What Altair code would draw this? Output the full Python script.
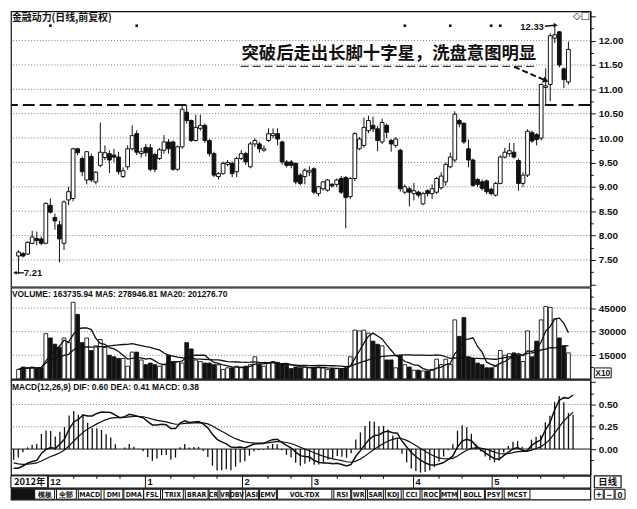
import altair as alt
import pandas as pd

# ---------------- data ----------------
opens = [7.58, 7.63, 7.62, 7.84, 7.94, 7.93, 7.84, 8.62, 8.37, 8.22,
         7.84, 8.73, 8.76, 9.78, 9.58, 9.14, 9.62, 9.10, 9.44, 9.60,
         9.68, 9.65, 9.61, 9.21, 9.41, 9.78, 10.09, 9.68, 9.81, 9.80,
         9.66, 9.58, 9.75, 9.92, 9.92, 9.36, 9.82, 10.53, 10.36, 9.95,
         10.20, 10.26, 9.95, 9.68, 9.21, 9.27, 9.46, 9.48, 9.31, 9.58,
         9.68, 9.41, 9.88, 9.88, 9.75, 9.95, 10.05, 10.09, 9.92, 9.51,
         9.51, 9.48, 9.24, 9.21, 9.30, 9.37, 8.86, 8.96, 8.93, 9.05,
         9.05, 9.17, 9.19, 8.80, 9.17, 9.78, 9.85, 10.15, 10.26, 10.19,
         9.92, 10.26, 9.95, 9.85, 9.75, 8.89, 8.96, 8.86, 8.89, 8.65,
         8.92, 8.86, 8.89, 8.98, 9.10, 9.41, 9.55, 10.36, 10.30, 9.78,
         9.55, 9.15, 9.10, 9.12, 8.95, 8.83, 9.07, 9.61, 9.68, 9.71,
         9.54, 9.07, 9.24, 10.11, 10.07, 10.00, 11.04, 11.10, 12.05, 12.18,
         11.42, 11.15]
highs = [7.70, 7.66, 7.88, 8.10, 8.08, 7.98, 8.68, 8.76, 8.45, 8.30,
         8.72, 9.00, 9.80, 9.80, 9.62, 9.73, 9.68, 9.32, 10.32, 9.85,
         9.75, 9.78, 9.72, 9.40, 9.85, 10.26, 10.16, 9.80, 9.88, 9.88,
         9.70, 9.80, 10.06, 9.98, 9.95, 9.85, 10.68, 10.68, 10.38, 10.48,
         10.48, 10.30, 9.98, 9.72, 9.30, 9.52, 9.55, 9.52, 9.62, 9.75,
         9.72, 9.92, 10.00, 9.92, 9.85, 10.20, 10.20, 10.20, 9.95, 9.55,
         9.55, 9.50, 9.28, 9.38, 9.42, 9.40, 9.02, 9.12, 9.16, 9.08,
         9.17, 9.22, 9.22, 9.20, 10.12, 10.02, 10.42, 10.46, 10.44, 10.25,
         10.40, 10.30, 9.98, 10.02, 9.78, 9.05, 9.00, 9.08, 8.92, 8.90,
         8.95, 9.05, 9.20, 9.30, 9.50, 9.70, 10.55, 10.40, 10.33, 9.97,
         9.58, 9.18, 9.15, 9.15, 8.98, 9.10, 9.65, 9.80, 9.90, 9.90,
         9.58, 9.30, 10.18, 10.15, 10.10, 11.12, 11.43, 12.15, 12.33, 12.20,
         11.45, 11.98]
lows = [7.21, 7.55, 7.60, 7.82, 7.80, 7.80, 7.82, 8.45, 8.12, 7.45,
        7.70, 8.62, 8.70, 9.65, 9.22, 9.05, 9.10, 9.05, 9.40, 9.55,
        9.28, 9.50, 9.25, 9.18, 9.35, 9.75, 9.65, 9.60, 9.62, 9.32,
        9.30, 9.55, 9.68, 9.68, 9.33, 9.33, 9.78, 10.30, 9.92, 9.93,
        10.15, 9.90, 9.62, 9.20, 9.15, 9.25, 9.42, 9.20, 9.20, 9.55,
        9.45, 9.38, 9.82, 9.70, 9.72, 9.92, 10.00, 9.85, 9.45, 9.40,
        9.38, 9.05, 9.03, 9.05, 9.22, 8.85, 8.80, 8.92, 8.90, 8.98,
        9.00, 8.85, 8.15, 8.75, 9.12, 9.75, 9.80, 10.10, 10.12, 9.73,
        9.88, 10.00, 9.72, 9.80, 8.90, 8.85, 8.60, 8.72, 8.78, 8.62,
        8.80, 8.75, 8.85, 8.94, 9.02, 9.38, 9.50, 10.22, 9.88, 9.40,
        9.00, 9.00, 8.92, 8.85, 8.82, 8.80, 9.05, 9.58, 9.62, 9.58,
        8.92, 9.00, 9.20, 9.90, 9.85, 9.95, 10.70, 10.76, 11.95, 11.45,
        11.03, 11.10]
closes = [7.66, 7.58, 7.86, 7.97, 7.90, 7.84, 8.66, 8.48, 8.30, 7.93,
          8.69, 8.90, 9.78, 9.70, 9.31, 9.72, 9.14, 9.30, 9.71, 9.70,
          9.55, 9.61, 9.31, 9.33, 9.78, 10.05, 9.71, 9.72, 9.70, 9.36,
          9.36, 9.76, 9.92, 9.78, 9.36, 9.82, 10.59, 10.36, 9.95, 10.22,
          10.26, 9.95, 9.68, 9.24, 9.27, 9.48, 9.50, 9.27, 9.58, 9.68,
          9.51, 9.88, 9.95, 9.78, 9.78, 10.09, 10.09, 9.98, 9.51, 9.44,
          9.44, 9.10, 9.07, 9.34, 9.33, 8.89, 9.00, 9.10, 9.14, 9.02,
          9.14, 8.89, 8.78, 9.17, 10.09, 9.98, 10.22, 10.36, 10.19, 9.95,
          10.32, 10.12, 9.88, 9.98, 8.96, 9.00, 8.89, 8.92, 8.83, 8.86,
          8.86, 8.96, 9.17, 9.22, 9.46, 9.61, 10.49, 10.29, 9.92, 9.55,
          9.03, 9.05, 8.97, 8.90, 8.86, 9.07, 9.61, 9.71, 9.74, 9.61,
          9.07, 9.24, 10.14, 9.94, 9.97, 11.10, 11.07, 12.10, 12.12, 11.50,
          11.20, 11.82]
# volume in units of x10 shares
volumes = [6000, 7500, 7000, 7500, 6500, 7000, 28700, 26000, 22000, 20000,
           26000, 23000, 48700, 41000, 23000, 26000, 18000, 21000, 25000, 20000,
           15000, 14000, 13000, 13000, 8000, 17000, 17000, 12000, 9000, 10000,
           9000, 8000, 9000, 15000, 11000, 11000, 10000, 23000, 19000, 12000,
           11000, 10000, 10000, 9000, 9000, 6000, 7000, 7000, 8000, 7500,
           8000, 9000, 14000, 9000, 8000, 10000, 11000, 10500, 9000, 8500,
           6500, 7500, 7000, 7500, 7000, 7000, 7500, 7000, 6000, 6500,
           6500, 6000, 7000, 14000, 31000, 30500, 31000, 29000, 24000, 22000,
           21000, 12000, 12000, 7000, 15000, 9000, 7500, 5500, 5500, 5000,
           5000, 6000, 12500, 9000, 12500, 9000, 37500, 27000, 39000, 14000,
           13000, 10000, 9000, 7000, 7000, 8000, 18000, 15000, 16000, 16500,
           15000, 11000, 30500, 14000, 24000, 37500, 46000, 45500, 38000, 26000,
           21000, 16500]

price_grid = [7.5, 8.0, 8.5, 9.0, 9.5, 10.0, 10.5, 11.0, 11.5, 12.0]
resistance = [10.68]
vol_grid = [15000, 30000, 45000]
macd_grid = [0.25, 0.5]
# indicator state at the left edge of the window (EMA12, EMA26, DEA)
macd_seed = [7.80, 8.02, -0.14]

event_idx = [8, 27, 86, 96, 105, 107]
month_labels = ["12", "1", "2", "3", "4", "5"]
month_start = [9, 30, 51, 66, 88, 105]
week_ticks = [14, 19, 24, 35, 40, 45, 56, 61, 71, 76, 81, 93, 98, 110, 115, 120]

title_main = "金融动力(日线,前复权)"
title_vol = "VOLUME: 163735.94  MA5: 278946.81  MA20: 201276.70"
title_macd = "MACD(12,26,9)  DIF: 0.60  DEA: 0.41  MACD: 0.38"
annotation = "突破后走出长脚十字星，洗盘意图明显"
high_label = "12.33"
low_label = "7.21"

buttons = ["", "模板", "全部", "MACD", "DMI", "DMA", "FSL", "TRIX", "BRAR", "CR", "VR",
           "OBV", "ASI", "EMV", "VOL-TDX", "RSI", "WR", "SAR", "KDJ", "CCI", "ROC",
           "MTM", "BOLL", "PSY", "MCST"]
button_x0 = [1, 24, 46, 68, 94, 114, 134, 153, 176, 200, 211, 222, 237, 251, 269,
             326, 344, 360, 378, 396, 415, 434, 454, 479, 498]
button_x1 = [24, 44, 66, 91, 113, 134, 151, 174, 199, 209, 221, 234, 250, 268, 324,
             343, 358, 376, 394, 413, 433, 451, 478, 496, 524]

# ---------------- derived table ----------------
n = len(closes)
df = pd.DataFrame({"i": list(range(1, n + 1)), "open": opens, "high": highs,
                   "low": lows, "close": closes, "vol": volumes})
df["zero"] = 0.0
e12, e26, dea = macd_seed
difs, deas, hist = [], [], []
for c in closes:
    e12 = e12 + (c - e12) * 2 / 13
    e26 = e26 + (c - e26) * 2 / 27
    d = e12 - e26
    dea = dea + (d - dea) * 2 / 10
    difs.append(d)
    deas.append(dea)
    hist.append(2 * (d - dea))
df["dif"] = difs
df["dea"] = deas
df["macd"] = hist

INK = "#111"
W = 585
XS = alt.Scale(domain=[0.42, 125.74], nice=False, zero=False)
UPFILL = alt.condition("datum.close >= datum.open", alt.value("white"), alt.value(INK))
NARROW = "Liberation Sans Narrow, DejaVu Sans Condensed, Liberation Sans"


def xq(field="i"):
    return alt.X(f"{field}:Q", scale=XS, axis=None, title=None)


# ---------------- price panel ----------------
YP = alt.Scale(domain=[6.95, 12.60], nice=False, zero=False)
price_axis = alt.Axis(orient="right", values=[7.0 + 0.25 * k for k in range(23)],
                      labelExpr="(datum.value % 0.5 == 0 && datum.value >= 7.5 && datum.value <= 12) ? format(datum.value, '.2f') : ''",
                      tickSize={"condition": {"test": "datum.value % 0.5 == 0", "value": 5}, "value": 3},
                      title=None)


def yp(field):
    return alt.Y(f"{field}:Q", scale=YP, axis=price_axis, title=None)


grid_p = alt.Chart(pd.DataFrame({"p": price_grid})).mark_rule(
    color="#555", strokeDash=[1, 2], strokeWidth=0.8).encode(y=yp("p"))
resist = alt.Chart(pd.DataFrame({"p": resistance})).mark_rule(
    color=INK, strokeDash=[12, 5], strokeWidth=2).encode(y=yp("p"))
wick = alt.Chart(df).mark_rule(color=INK, strokeWidth=1).encode(
    x=xq(), y=yp("low"), y2="high:Q")
body = alt.Chart(df).mark_bar(size=3.8, stroke=INK, strokeWidth=1).encode(
    x=xq(), y=yp("open"), y2="close:Q", fill=UPFILL)
events = alt.Chart(pd.DataFrame({"i": event_idx})).mark_point(
    shape="square", filled=True, size=7, color=INK, opacity=1).encode(
    x=xq(), y=alt.value(14.5))

t_main = alt.Chart(pd.DataFrame({"t": [title_main]})).mark_text(
    font="Noto Sans CJK SC", fontSize=10, fontWeight="bold", align="left",
    baseline="middle", color=INK).encode(x=alt.value(1), y=alt.value(7), text="t:N")
icons = alt.Chart(pd.DataFrame({"t": ["◇□"]})).mark_text(
    font="DejaVu Sans", fontSize=10, align="center", baseline="middle",
    color=INK).encode(x=alt.value(576), y=alt.value(5), text="t:N")
t_ann = alt.Chart(pd.DataFrame({"t": [annotation]})).mark_text(
    font="Noto Sans CJK SC", fontSize=17.5, fontWeight="bold", align="center",
    baseline="middle", color=INK).encode(x=alt.value(381.5), y=alt.value(43.5), text="t:N")
underline = alt.Chart(pd.DataFrame({"a": [0]})).mark_rule(
    color=INK, strokeDash=[8, 4], strokeWidth=1).encode(
    x=alt.value(232), x2=alt.value(531), y=alt.value(55.5), y2=alt.value(55.5))
arrow = alt.Chart(pd.DataFrame({"a": [0]})).mark_rule(
    color=INK, strokeDash=[6, 3], strokeWidth=2).encode(
    x=alt.value(508), x2=alt.value(538), y=alt.value(56), y2=alt.value(69))
arrow_head = alt.Chart(pd.DataFrame({"a": [0]})).mark_point(
    shape="triangle-up", angle=114, filled=True, size=45, color=INK, opacity=1).encode(
    x=alt.value(540), y=alt.value(70))
t_high = alt.Chart(pd.DataFrame({"t": [high_label]})).mark_text(
    font="Liberation Sans", fontSize=9.5, fontWeight="bold", align="right",
    baseline="middle", color=INK).encode(x=alt.value(538), y=alt.value(16), text="t:N")
arrow2 = alt.Chart(pd.DataFrame({"a": [0]})).mark_rule(
    color=INK, strokeWidth=1.5).encode(
    x=alt.value(539), x2=alt.value(549), y=alt.value(15), y2=alt.value(14))
arrow2_head = alt.Chart(pd.DataFrame({"a": [0]})).mark_point(
    shape="triangle-up", angle=95, filled=True, size=22, color=INK, opacity=1).encode(
    x=alt.value(550), y=alt.value(14))
low_line = alt.Chart(pd.DataFrame({"a": [0]})).mark_rule(
    color=INK, strokeWidth=1.3).encode(
    x=alt.value(4), x2=alt.value(13), y=alt.value(264), y2=alt.value(264))
low_head = alt.Chart(pd.DataFrame({"a": [0]})).mark_point(
    shape="triangle-up", angle=270, filled=True, size=16, color=INK, opacity=1).encode(
    x=alt.value(4), y=alt.value(264))
t_low = alt.Chart(pd.DataFrame({"t": [low_label]})).mark_text(
    font="Liberation Sans", fontSize=9.5, fontWeight="bold", align="left",
    baseline="middle", color=INK).encode(x=alt.value(13), y=alt.value(264), text="t:N")

p1 = alt.layer(grid_p, resist, wick, body, events, t_main, icons, t_ann, underline,
               arrow, arrow_head, t_high, arrow2, arrow2_head, low_line, low_head,
               t_low).properties(width=W, height=278)

# ---------------- volume panel ----------------
YV = alt.Scale(domain=[0, 58000], nice=False, zero=False)
vol_axis = alt.Axis(orient="right", values=[7500 * k for k in range(1, 8)],
                    labelExpr="datum.value % 15000 == 0 ? format(datum.value, 'd') : ''",
                    tickSize={"condition": {"test": "datum.value % 15000 == 0", "value": 5}, "value": 3},
                    title=None)


def yv(field):
    return alt.Y(f"{field}:Q", scale=YV, axis=vol_axis, title=None)


grid_v = alt.Chart(pd.DataFrame({"v": vol_grid})).mark_rule(
    color="#555", strokeDash=[1, 2], strokeWidth=0.8).encode(y=yv("v"))
vbars = alt.Chart(df).mark_bar(size=3.8, stroke=INK, strokeWidth=0.9).encode(
    x=xq(), y=yv("vol"), y2="zero:Q", fill=UPFILL)
ma5 = alt.Chart(df).transform_window(
    ma5="mean(vol)", frame=[-4, 0], sort=[{"field": "i"}]).mark_line(
    color=INK, strokeWidth=1.3).encode(x=xq(), y=yv("ma5"))
ma20 = alt.Chart(df).transform_window(
    ma20="mean(vol)", frame=[-19, 0], sort=[{"field": "i"}]).mark_line(
    color=INK, strokeWidth=1.3).encode(x=xq(), y=yv("ma20"))
t_vol = alt.Chart(pd.DataFrame({"t": [title_vol]})).mark_text(
    font="Liberation Sans", fontSize=8.5, fontWeight="bold", align="left",
    baseline="middle", color=INK).encode(x=alt.value(1), y=alt.value(6), text="t:N")
x10_box = alt.Chart(pd.DataFrame({"a": [0]})).mark_rect(
    fill="white", stroke=INK, strokeWidth=1).encode(
    x=alt.value(589), x2=alt.value(606), y=alt.value(81), y2=alt.value(91))
x10_txt = alt.Chart(pd.DataFrame({"t": ["X10"]})).mark_text(
    font="Liberation Sans", fontSize=8.5, fontWeight="bold", align="center",
    baseline="middle", color=INK).encode(x=alt.value(597.5), y=alt.value(86), text="t:N")

p2 = alt.layer(grid_v, vbars, ma5, ma20, t_vol, x10_box, x10_txt).properties(width=W, height=92)

# ---------------- MACD panel ----------------
YM = alt.Scale(domain=[-0.29, 0.777], nice=False, zero=False)
macd_axis = alt.Axis(orient="right", values=[-0.125 + 0.125 * k for k in range(8)],
                     labelExpr="(datum.value % 0.25 == 0 && datum.value >= 0 && datum.value <= 0.5) ? format(datum.value, '.2f') : ''",
                     tickSize={"condition": {"test": "datum.value % 0.25 == 0", "value": 5}, "value": 3},
                     title=None)


def ym(field):
    return alt.Y(f"{field}:Q", scale=YM, axis=macd_axis, title=None)


grid_m = alt.Chart(pd.DataFrame({"m": macd_grid})).mark_rule(
    color="#555", strokeDash=[1, 2], strokeWidth=0.8).encode(y=ym("m"))
zero_m = alt.Chart(pd.DataFrame({"m": [0.0]})).mark_rule(
    color=INK, strokeWidth=1).encode(y=ym("m"))
hist_m = alt.Chart(df).mark_rule(color=INK, strokeWidth=1.3).encode(
    x=xq(), y=ym("zero"), y2="macd:Q")
dif_l = alt.Chart(df).mark_line(color=INK, strokeWidth=1.5).encode(x=xq(), y=ym("dif"))
dea_l = alt.Chart(df).mark_line(color=INK, strokeWidth=1.2).encode(x=xq(), y=ym("dea"))
t_macd = alt.Chart(pd.DataFrame({"t": [title_macd]})).mark_text(
    font="Liberation Sans", fontSize=8.5, fontWeight="bold", align="left",
    baseline="middle", color=INK).encode(x=alt.value(1), y=alt.value(7), text="t:N")

p3 = alt.layer(grid_m, zero_m, hist_m, dif_l, dea_l, t_macd).properties(width=W, height=96)

# ---------------- date row ----------------
mdf = pd.DataFrame({"m": month_labels, "s": month_start})
mdf["sep"] = mdf["s"] - 0.5
sep = alt.Chart(mdf).mark_rule(color=INK, strokeWidth=1).encode(
    x=xq("sep"), y=alt.value(0), y2=alt.value(12))
mtxt = alt.Chart(mdf).mark_text(font="Liberation Sans", fontSize=9.5, fontWeight="bold",
                                align="left", baseline="middle", dx=2, color=INK).encode(
    x=xq("sep"), y=alt.value(6.5), text="m:N")
wk = alt.Chart(pd.DataFrame({"w": week_ticks})).mark_rule(color=INK, strokeWidth=1).encode(
    x=xq("w"), y=alt.value(0), y2=alt.value(3))
yr_box = alt.Chart(pd.DataFrame({"a": [0]})).mark_rect(fill="white", stroke=INK, strokeWidth=1).encode(
    x=alt.value(0), x2=alt.value(37), y=alt.value(0), y2=alt.value(12))
yr_txt = alt.Chart(pd.DataFrame({"t": ["2012年"]})).mark_text(
    font="Noto Sans CJK SC", fontSize=9.5, fontWeight="bold", align="left",
    baseline="middle", color=INK).encode(x=alt.value(3), y=alt.value(6.5), text="t:N")
rx_box = alt.Chart(pd.DataFrame({"a": [0]})).mark_rect(fill="white", stroke=INK, strokeWidth=1.2).encode(
    x=alt.value(589), x2=alt.value(616), y=alt.value(0), y2=alt.value(12))
rx_txt = alt.Chart(pd.DataFrame({"t": ["日线"]})).mark_text(
    font="Noto Sans CJK SC", fontSize=9.5, fontWeight="bold", align="center",
    baseline="middle", color=INK).encode(x=alt.value(602.5), y=alt.value(6.5), text="t:N")

p4 = alt.layer(sep, wk, yr_box, yr_txt, mtxt, rx_box, rx_txt).properties(width=W, height=12)

# ---------------- button row ----------------
XB = alt.Scale(domain=[0, W], nice=False, zero=False)
bdf = pd.DataFrame({"b": buttons, "x0": button_x0, "x1": button_x1})
bdf["xc"] = (bdf["x0"] + bdf["x1"]) / 2
bdf["dark"] = bdf["b"] == ""
brect = alt.Chart(bdf).mark_rect(stroke=INK, strokeWidth=1).encode(
    x=alt.X("x0:Q", scale=XB, axis=None), x2="x1:Q",
    y=alt.value(0.5), y2=alt.value(10.5),
    fill=alt.condition("datum.dark", alt.value(INK), alt.value("white")))
btxt = alt.Chart(bdf).mark_text(font=NARROW, fontSize=7, fontWeight="bold",
                                align="center", baseline="middle", color=INK).encode(
    x=alt.X("xc:Q", scale=XB, axis=None), y=alt.value(6), text="b:N")
ctrl = pd.DataFrame({"c": ["+", "−", "0"], "x0": [589, 599, 610], "x1": [598, 609, 620]})
ctrl["xc"] = (ctrl["x0"] + ctrl["x1"]) / 2
crect = alt.Chart(ctrl).mark_rect(fill="white", stroke=INK, strokeWidth=1).encode(
    x=alt.X("x0:Q", scale=XB, axis=None), x2="x1:Q", y=alt.value(0.5), y2=alt.value(10.5))
ctxt = alt.Chart(ctrl).mark_text(font="Liberation Sans", fontSize=9, fontWeight="bold",
                                 align="center", baseline="middle", color=INK).encode(
    x=alt.X("xc:Q", scale=XB, axis=None), y=alt.value(6), text="c:N")

p5 = alt.layer(brect, btxt, crect, ctxt).properties(width=W, height=11)

chart = alt.vconcat(p1, p2, p3, p4, p5, spacing=1, bounds="flush").properties(
    padding={"left": 1, "top": 0, "right": 2, "bottom": 2}
).configure_view(stroke=INK, strokeWidth=1.2).configure_axis(
    labelFont="Liberation Sans", labelFontSize=10, labelFontWeight="bold",
    labelColor=INK, tickColor=INK, domainColor=INK, domainWidth=1.2,
    labelPadding=3, grid=False
)

chart.save("out.html", embed_options={"renderer": "svg", "actions": False})
